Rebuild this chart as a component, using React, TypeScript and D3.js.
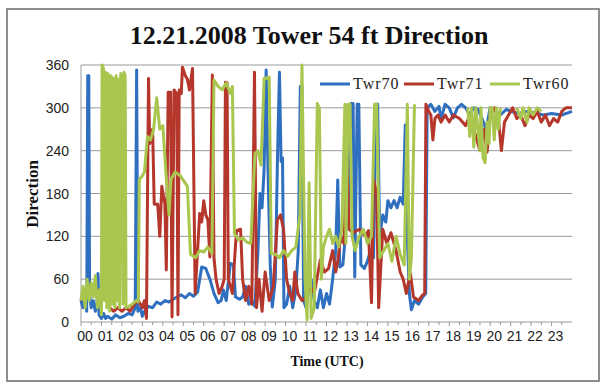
import React from "react";
import * as d3 from "d3";

// Hour-of-day tick labels and direction ticks
const hourLabels = ["00","01","02","03","04","05","06","07","08","09","10","11","12","13","14","15","16","17","18","19","20","21","22","23"];
const dirTicks = [0, 60, 120, 180, 240, 300, 360];

type Pt = [number, number | null];

// Twr70 wind direction, [hour UTC, degrees]
const twr70: Pt[] = [
  [0,30],[0.1,20],[0.2,35],[0.28,15],[0.33,345],[0.38,345],[0.42,40],[0.5,20],[0.6,30],[0.7,15],[0.78,25],[0.83,68],[0.88,10],
  [1.0,5],[1.1,12],[1.2,5],[1.3,8],[1.5,4],[1.7,10],[1.9,6],[2.1,8],[2.3,12],[2.5,10],[2.65,20],[2.72,353],[2.78,15],[2.9,20],
  [3.0,8],[3.1,15],[3.3,22],[3.5,20],[3.7,28],[3.9,25],[4.1,30],[4.3,28],[4.5,32],[4.7,35],[4.9,38],[5.1,34],[5.3,40],[5.5,36],
  [5.7,42],[5.9,77],[6.1,75],[6.3,60],[6.5,40],[6.7,27],[6.85,30],[6.96,45],[7.1,30],[7.3,82],[7.45,80],[7.55,35],[7.75,32],
  [7.9,35],[8.04,50],[8.2,25],[8.35,30],[8.5,22],[8.65,100],[8.75,180],[8.85,160],[8.95,213],[9.05,353],[9.15,200],[9.25,80],
  [9.35,21],[9.5,60],[9.6,225],[9.7,350],[9.78,225],[9.85,230],[9.92,20],[10.05,25],[10.2,50],[10.35,20],[10.5,45],[10.62,100],
  [10.72,330],[10.8,330],[10.88,30],[11.0,20],[11.1,40],[11.25,60],[11.4,30],[11.55,20],[11.7,45],[11.85,20],[12.0,40],
  [12.15,25],[12.3,60],[12.45,100],[12.55,199],[12.65,77],[12.8,80],[12.95,130],[13.05,150],[13.2,306],[13.3,306],[13.38,63],
  [13.5,305],[13.58,305],[13.68,80],[13.85,75],[14.0,85],[14.15,100],[14.3,90],[14.42,305],[14.5,305],[14.6,120],[14.75,150],
  [14.9,140],[15.0,170],[15.15,160],[15.3,170],[15.45,160],[15.6,175],[15.75,165],[15.85,276],[15.95,120],[16.05,40],
  [16.15,17],[16.3,30],[16.5,25],[16.7,35],[16.85,40],[16.92,300],[17.1,305],[17.3,295],[17.5,302],[17.6,285],[17.8,305],
  [18.0,300],[18.2,286],[18.4,300],[18.6,305],[18.8,300],[19.0,290],[19.2,300],[19.4,298],[19.6,285],[19.8,270],[20.0,300],
  [20.3,295],[20.5,290],[20.8,298],[21.0,295],[21.4,292],[21.8,295],[22.2,293],[22.6,290],[23.0,292],[23.5,290],[24,295]
];

// Twr71 wind direction, [hour UTC, degrees]
const twr71: Pt[] = [
  [0,30],[0.1,40],[0.2,45],[0.4,50],[0.6,40],[0.8,45],[1.0,30],[1.2,35],[1.4,20],[1.6,15],[1.8,20],[2.0,15],[2.2,20],[2.4,15],
  [2.6,25],[2.8,30],[3.0,20],[3.1,30],[3.2,5],[3.3,341],[3.36,250],[3.5,270],[3.58,165],[3.75,165],[3.85,120],[3.95,190],
  [4.1,165],[4.17,73],[4.26,322],[4.38,322],[4.45,7],[4.55,325],[4.68,320],[4.74,10],[4.8,325],[4.9,320],[4.96,357],[5.1,345],
  [5.2,340],[5.3,325],[5.45,355],[5.58,40],[5.8,152],[5.9,140],[6.0,170],[6.1,150],[6.2,143],[6.3,91],[6.42,346],[6.5,90],
  [6.6,60],[6.75,40],[6.9,50],[7.0,60],[7.06,336],[7.14,335],[7.2,60],[7.4,40],[7.6,128],[7.8,130],[7.9,60],[8.05,30],
  [8.2,50],[8.35,25],[8.48,350],[8.58,20],[8.7,60],[8.85,15],[9.0,70],[9.2,30],[9.4,50],[9.6,143],[9.75,150],[9.9,130],
  [10.05,60],[10.2,40],[10.35,30],[10.45,70],[10.6,40],[10.8,30],[11.0,35],[11.2,50],[11.4,40],[11.7,87],[11.9,70],[12.1,75],
  [12.3,100],[12.45,70],[12.55,85],[12.7,120],[12.85,110],[13.0,227],[13.1,130],[13.3,125],[13.6,130],[13.9,120],[14.05,128],
  [14.2,27],[14.3,200],[14.45,180],[14.55,20],[14.75,130],[14.95,110],[15.15,125],[15.4,100],[15.6,70],[15.75,60],[15.9,40],
  [16.0,55],[16.1,68],[16.25,35],[16.5,30],[16.7,38],[16.8,40],[16.86,305],[17.0,295],[17.1,290],[17.2,255],[17.3,285],
  [17.45,290],[17.6,280],[17.8,290],[18.0,280],[18.2,290],[18.5,285],[18.8,275],[19.0,290],[19.3,260],[19.5,240],[19.7,270],
  [19.85,238],[20.0,290],[20.2,300],[20.4,285],[20.55,240],[20.7,280],[20.9,290],[21.1,300],[21.3,285],[21.5,290],[21.7,275],
  [21.9,290],[22.1,285],[22.3,295],[22.5,280],[22.7,290],[22.9,275],[23.1,285],[23.3,280],[23.5,295],[23.7,300],[24,300]
];

// Twr60 wind direction, [hour UTC, degrees]; null marks missing data
const twr60: Pt[] = [
  [0,30],[0.1,50],[0.2,20],[0.3,60],[0.4,30],[0.5,55],[0.6,35],[0.7,65],[0.8,20],[0.9,45],[1.0,10],[1.03,360],[1.1,355],
  [1.14,30],[1.2,350],[1.26,20],[1.3,348],[1.36,345],[1.4,15],[1.46,345],[1.52,25],[1.56,342],[1.62,340],[1.66,20],[1.72,345],
  [1.78,30],[1.82,340],[1.88,20],[1.94,348],[2.0,345],[2.05,25],[2.1,350],[2.16,345],[2.2,20],[2.35,22],[2.5,25],[2.7,30],
  [2.8,28],[2.85,199],[3.0,205],[3.1,210],[3.25,260],[3.4,255],[3.55,270],[3.7,314],[3.85,270],[4.0,275],[4.15,210],[4.3,150],
  [4.4,200],[4.6,210],[4.85,205],[5.2,190],[5.35,95],[5.6,90],[5.8,100],[6.0,98],[6.2,105],[6.4,96],[6.5,339],[6.7,330],
  [6.9,325],[7.1,335],[7.3,320],[7.4,330],[7.5,124],[7.7,115],[7.9,118],[8.1,112],[8.3,110],[8.5,236],[8.65,240],[8.8,220],
  [8.95,341],[9.2,343],[9.3,96],[9.5,95],[9.7,90],[9.9,100],[10.1,92],[10.3,100],[10.5,105],[10.7,150],[10.8,360],[10.95,60],
  [11.05,3],[11.15,195],[11.25,5],[11.4,20],[11.55,306],[11.65,300],[11.75,60],[11.85,105],[12.0,120],[12.15,130],[12.3,110],
  [12.45,120],[12.6,105],[12.75,130],[12.9,305],[12.95,110],[13.05,305],[13.15,305],[13.25,120],[13.4,100],[13.6,120],
  [13.8,130],[14.0,110],[14.2,120],[14.35,305],[14.45,305],[14.6,90],[14.8,100],[15.0,110],[15.2,85],[15.4,120],[15.6,95],
  [15.8,80],[15.95,305],[16.05,60],[16.15,90],[16.3,305],[16.4,null],
  [18.9,300],[19.0,260],[19.1,300],[19.2,245],[19.3,300],[19.4,270],[19.5,240],[19.55,300],[19.65,230],[19.75,223],[19.85,280],
  [19.95,250],[20.0,300],[20.1,300],[20.2,255],[20.3,300],[20.4,270],[20.5,300],[20.55,null],
  [21.3,300],[21.5,285],[21.6,300],[21.8,280],[21.9,300],[22.1,290],[22.3,300],[22.5,295]
];

const seriesNames = ["Twr70", "Twr71", "Twr60"];
const seriesColors = ["#2f6fc0", "#b5362a", "#a9c64e"];
const seriesData = [twr70, twr71, twr60];

export default function App() {
  const W = 608, H = 385;
  const left = 81, right = 572, top = 65, bottom = 322;
  const x = d3.scaleLinear().domain([0, 24]).range([left, right]);
  const y = d3.scaleLinear().domain([0, 360]).range([bottom, top]);
  const line = d3.line<Pt>()
    .defined((d) => d[1] !== null)
    .x((d) => x(d[0]))
    .y((d) => y(d[1] as number))
    .curve(d3.curveLinear);

  const legendX = [320, 404, 490];

  return (
    <svg width={W} height={H} style={{ position: "absolute", left: 0, top: 0, background: "#fff" }}>
      <rect x={7} y={9} width={592} height={372} fill="#fff" stroke="#6a6a6a" strokeWidth={1.5} />
      <text x={309} y={44} textAnchor="middle" fontFamily="'Liberation Serif', 'Times New Roman', serif"
        fontWeight="bold" fontSize={26} fill="#111">12.21.2008 Tower 54 ft Direction</text>

      {dirTicks.map((t) => (
        <g key={t}>
          <line x1={left} x2={right} y1={y(t)} y2={y(t)} stroke="#9a9a9a" strokeWidth={1} />
          <text x={69} y={y(t) + 5} textAnchor="end" fontFamily="'Liberation Sans', Arial, sans-serif"
            fontSize={14} fill="#222">{t}</text>
        </g>
      ))}
      <line x1={left} x2={left} y1={top} y2={bottom} stroke="#9a9a9a" strokeWidth={1} />
      {hourLabels.map((h, i) => (
        <g key={h}>
          <line x1={x(i)} x2={x(i)} y1={bottom} y2={bottom + 4} stroke="#9a9a9a" />
          <line x1={x(i + 0.5)} x2={x(i + 0.5)} y1={bottom} y2={bottom + 3} stroke="#9a9a9a" />
          <text x={x(i) + 4} y={341} textAnchor="middle" fontFamily="'Liberation Sans', Arial, sans-serif"
            fontSize={14} fill="#222">{h}</text>
        </g>
      ))}

      {seriesData.map((d, i) => (
        <path key={seriesNames[i]} d={line(d) ?? ""} fill="none" stroke={seriesColors[i]}
          strokeWidth={3} strokeLinejoin="round" />
      ))}

      {seriesNames.map((n, i) => (
        <g key={n}>
          <line x1={legendX[i]} x2={legendX[i] + 30} y1={84} y2={84} stroke={seriesColors[i]} strokeWidth={3} />
          <text x={legendX[i] + 33} y={89} fontFamily="'Liberation Serif', 'Times New Roman', serif"
            fontSize={16} letterSpacing={1} fill="#222">{n}</text>
        </g>
      ))}

      <text transform={`translate(38,194) rotate(-90)`} textAnchor="middle"
        fontFamily="'Liberation Serif', 'Times New Roman', serif" fontWeight="bold" fontSize={17} fill="#111">Direction</text>
      <text x={327} y={366} textAnchor="middle" fontFamily="'Liberation Serif', 'Times New Roman', serif"
        fontWeight="bold" fontSize={14} fill="#111">Time (UTC)</text>
    </svg>
  );
}
